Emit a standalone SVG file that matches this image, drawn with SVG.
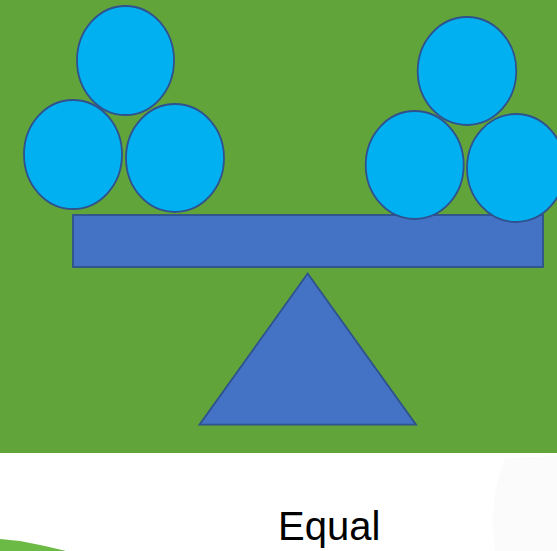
<svg xmlns="http://www.w3.org/2000/svg" width="557" height="551" viewBox="0 0 557 551">
  <style>
    .ball { fill: #00B0F0; stroke: #2F528F; stroke-width: 1.8; }
    .shape { fill: #4472C4; stroke: #2F528F; stroke-width: 1.8; }
    .label { font-family: "Liberation Sans", Arial, sans-serif; font-size: 40px; fill: #000000; }
  </style>
  <rect x="0" y="0" width="557" height="551" fill="#FFFFFF"/>
  <path d="M 495 551 Q 488 500 505 458 L 557 456 L 557 551 Z" fill="#FBFBFC"/>
  <rect id="background" x="0" y="0" width="557" height="453" fill="#61A43A"/>
  <path id="swoosh" d="M 0 539 L 20 541 L 45 546 L 66 551 L 0 551 Z" fill="#6BBA45"/>
  <g id="fulcrum">
    <polygon class="shape" points="307.7,273.5 199.5,424.7 416,424.7"/>
  </g>
  <g id="beam">
    <rect class="shape" x="73" y="215" width="470" height="52"/>
  </g>
  <g id="left-balls">
    <ellipse class="ball" cx="125.5" cy="60.5" rx="48.5" ry="54.5"/>
    <ellipse class="ball" cx="73" cy="154.5" rx="49" ry="54.5"/>
    <ellipse class="ball" cx="175" cy="158" rx="49" ry="54"/>
  </g>
  <g id="right-balls">
    <ellipse class="ball" cx="467" cy="71" rx="49.3" ry="54"/>
    <ellipse class="ball" cx="414.7" cy="165" rx="49" ry="54"/>
    <ellipse class="ball" cx="516" cy="168" rx="49" ry="54"/>
  </g>
  <text class="label" x="278" y="540">Equal</text>
</svg>
